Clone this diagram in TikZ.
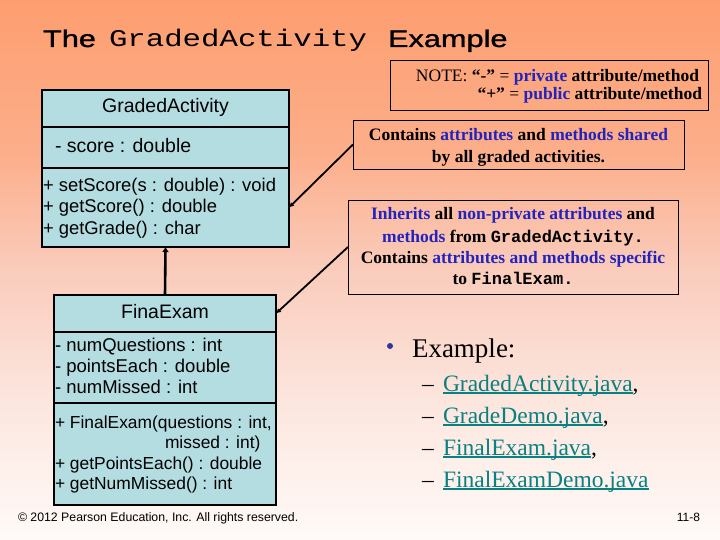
\documentclass[tikz,border=0pt]{standalone}
\usepackage{graphicx}
\usepackage{fontspec}
\setmainfont{Liberation Serif}
\newfontfamily\arialf{Liberation Sans}
\newfontfamily\titlesans[FakeBold=1.0]{Liberation Sans}
\newfontfamily\monof{Liberation Mono}
\usetikzlibrary{arrows.meta}
\definecolor{bgA}{RGB}{253,158,112}
\definecolor{bgB}{RGB}{252,174,138}
\definecolor{bgC}{RGB}{250,204,188}
\definecolor{bgD}{RGB}{252,230,222}
\definecolor{bgE}{RGB}{255,250,248}
\definecolor{classfill}{RGB}{180,221,226}
\definecolor{hl}{RGB}{35,35,190}
\definecolor{linkc}{RGB}{10,128,128}
\definecolor{bulletc}{RGB}{51,51,153}
\pgfdeclareverticalshading{slidebg}{100bp}{color(0bp)=(bgE); color(25bp)=(bgE); color(38bp)=(bgD); color(50bp)=(bgC); color(61bp)=(bgB); color(75bp)=(bgA); color(100bp)=(bgA)}
\newcommand\fs[1]{\fontsize{#1}{#1}\selectfont}
\newcommand\myul[1]{\setbox0\hbox{#1}\rlap{\rule[-2.6pt]{\wd0}{1.4pt}}\box0}
\newcommand\wide[1]{\scalebox{1.28}[1]{#1}}
\tikzset{
  classpart/.style={draw=black, line width=1.2pt, fill=classfill, inner sep=0pt, outer sep=0pt},
  notebox/.style={draw=black, line width=0.9pt, inner sep=0pt, outer sep=0pt},
  txt/.style={inner sep=0pt, outer sep=0pt},
  umlname/.style={txt, anchor=base, font=\arialf\fs{19.5}},
  umlline/.style={txt, anchor=base west, font=\arialf\fs{#1}},
  noteline/.style={txt, anchor=base, font=\bfseries\fs{17.5}},
  conn/.style={line width=1.8pt, -{Latex[length=5pt,width=5pt]}},
  inh/.style={line width=2.6pt, -{Latex[length=5pt,width=7pt]}},
  listtxt/.style={txt, anchor=base west, font=\fs{23.5}}
}
\begin{document}
\begin{tikzpicture}[x=1pt,y=-1pt]
\useasboundingbox (0,0) rectangle (720,540);
\shade[shading=slidebg] (0,0) rectangle (720,540);

% title
\node[txt, anchor=base west, font=\titlesans\fs{24}] (t1) at (43,47) {\wide{The}};
\node[txt, anchor=base west, font=\monof\fs{24}] (t2) at (109,47) {\wide{GradedActivity}};
\node[txt, anchor=base west, font=\titlesans\fs{24}] (t3) at (388,47) {\wide{Example}};

% GradedActivity class
\node[classpart, minimum width=247pt, minimum height=37pt] (ganame) at (165.5,108.5) {};
\node[classpart, minimum width=247pt, minimum height=41pt] (gaattr) at (165.5,147.5) {};
\node[classpart, minimum width=247pt, minimum height=79pt] (gameth) at (165.5,207.5) {};
\node[umlname] (gat) at (165.5,113) {GradedActivity};
\node[umlline=19.5] (gaa) at (55,153) {- score : double};
\node[umlline=18.4] (gam1) at (43,192) {+ setScore(s : double) : void};
\node[umlline=18.4] (gam2) at (43,213) {+ getScore() : double};
\node[umlline=18.4] (gam3) at (43,234) {+ getGrade() : char};

% FinalExam class
\node[classpart, minimum width=222pt, minimum height=37pt] (fename) at (165,313.5) {};
\node[classpart, minimum width=222pt, minimum height=71pt] (feattr) at (165,367.5) {};
\node[classpart, minimum width=222pt, minimum height=102pt] (femeth) at (165,454) {};
\node[umlname] (fet) at (165,318) {FinaExam};
\node[umlline=18.5] (fea1) at (55,351) {- numQuestions : int};
\node[umlline=18.5] (fea2) at (55,372) {- pointsEach : double};
\node[umlline=18.5] (fea3) at (55,393) {- numMissed : int};
\node[umlline=17.4] (fem1) at (55,428) {+ FinalExam(questions : int,};
\node[umlline=17.4] (fem2) at (165,448.5) {missed : int)};
\node[umlline=17.4] (fem3) at (55,469) {+ getPointsEach() : double};
\node[umlline=17.4] (fem4) at (55,489.5) {+ getNumMissed() : int};

% note boxes
\node[notebox, minimum width=318pt, minimum height=50pt] (note) at (549,85) {};
\node[txt, anchor=base east, font=\fs{17.5}] (n1) at (699,82) {NOTE: \textbf{“-”} = \textbf{{\color{hl}private} attribute/method}};
\node[txt, anchor=base east, font=\fs{17.5}] (n2) at (702,100) {\textbf{“+”} = \textbf{{\color{hl}public} attribute/method}};

\node[notebox, minimum width=331pt, minimum height=49pt] (contains) at (518.5,144.5) {};
\node[noteline] (c1) at (518.5,141) {Contains {\color{hl}attributes} and {\color{hl}methods shared}};
\node[noteline] (c2) at (518.5,163) {by all graded activities.};

\node[notebox, minimum width=330pt, minimum height=94pt] (inherits) at (513,247) {};
\node[noteline] (i1) at (513,220) {{\color{hl}Inherits} all {\color{hl}non-private attributes} and};
\node[noteline] (i2) at (513,242) {{\color{hl}methods} from {\monof\fs{17}GradedActivity.}};
\node[noteline] (i3) at (513,263) {Contains {\color{hl}attributes and methods specific}};
\node[noteline] (i4) at (513,284) {to {\monof\fs{17}FinalExam.}};

% connectors
\draw[conn] (contains.west) -- (gameth.east);
\draw[conn] (inherits.west) -- (fename.east);
\draw[inh] (fename.north) -- (gameth.south);

% example list
\node[circle, fill=bulletc, minimum size=6pt, inner sep=0pt] (bul) at (390,346) {};
\node[txt, anchor=base west, font=\fs{27}] (ex) at (412,357) {Example:};
\node[listtxt] (d1) at (422,391) {–};
\node[listtxt] (l1) at (443,391) {{\color{linkc}\myul{GradedActivity.java}},};
\node[listtxt] (d2) at (422,423) {–};
\node[listtxt] (l2) at (443,423) {{\color{linkc}\myul{GradeDemo.java}},};
\node[listtxt] (d3) at (422,455) {–};
\node[listtxt] (l3) at (443,455) {{\color{linkc}\myul{FinalExam.java}},};
\node[listtxt] (d4) at (422,487) {–};
\node[listtxt] (l4) at (443,487) {{\color{linkc}\myul{FinalExamDemo.java}}};

% footer
\node[txt, anchor=base west, font=\arialf\fs{12.3}] (copy) at (18,521) {© 2012 Pearson Education, Inc. All rights reserved.};
\node[txt, anchor=base east, font=\arialf\fs{12}] (pg) at (700,521) {11-8};
\end{tikzpicture}
\end{document}
